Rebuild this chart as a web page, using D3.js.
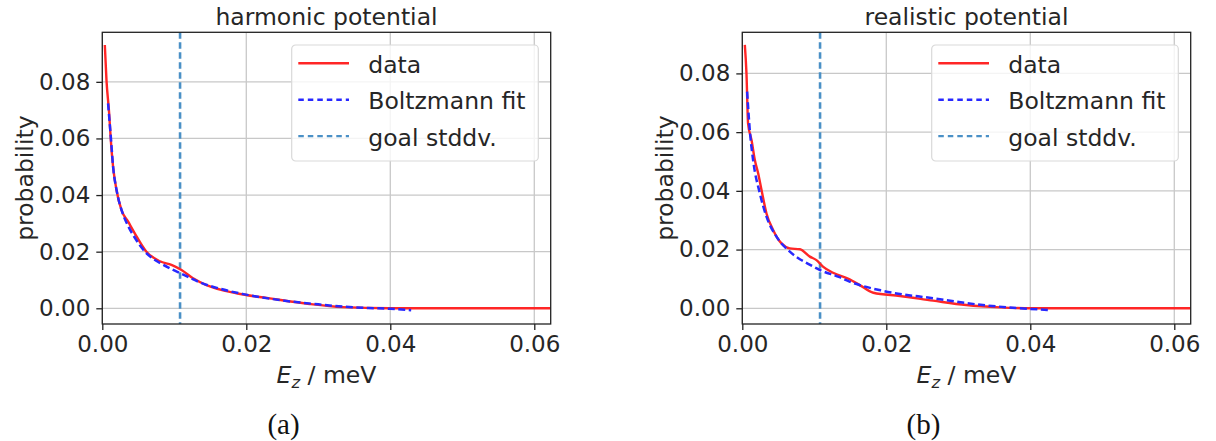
<!DOCTYPE html>
<html>
<head>
<meta charset="utf-8">
<script src="https://cdn.jsdelivr.net/npm/d3@7"></script>
<style>
  body { margin: 0; background: #fff; }
  text { font-family: "DejaVu Sans", sans-serif; fill: #262626; }
</style>
</head>
<body>
<svg id="chart" width="1216" height="441"></svg>
<script>
// tick values shared by both panels
const xTicks = [0, 0.02, 0.04, 0.06];
const yTicks = [0, 0.02, 0.04, 0.06, 0.08];
const goalStddev = 0.0108;

// (a) harmonic potential
const harmonicDataE = [0.00035, 0.00058, 0.00095, 0.00118, 0.0015, 0.00197, 0.00267, 0.00359, 0.00451, 0.00613, 0.008, 0.0096, 0.011, 0.0126, 0.01447, 0.01864, 0.02326, 0.0288, 0.0334, 0.0399, 0.0623];
const harmonicDataP = [0.093, 0.0806, 0.0689, 0.0595, 0.05, 0.0418, 0.0347, 0.0306, 0.0265, 0.02, 0.0166, 0.0153, 0.0135, 0.0106, 0.0082, 0.0053, 0.0035, 0.0015, 0.0004, 0, 0];
const harmonicFitE = [0.0008, 0.0012, 0.0015, 0.002, 0.0027, 0.0036, 0.0045, 0.006, 0.008, 0.0095, 0.011, 0.0135, 0.0165, 0.0196, 0.023, 0.0265, 0.03, 0.0334, 0.037, 0.04, 0.0429];
const harmonicFitP = [0.0724, 0.06, 0.05, 0.0415, 0.0345, 0.029, 0.025, 0.0198, 0.016, 0.014, 0.0122, 0.0092, 0.0068, 0.005, 0.0035, 0.0023, 0.0014, 0.0006, 0.0001, -0.0002, -0.0007];

// (b) realistic potential
const realisticDataE = [0.00035, 0.00058, 0.0008, 0.00128, 0.00174, 0.0022, 0.00267, 0.00336, 0.00428, 0.00544, 0.0066, 0.008, 0.00938, 0.0103, 0.0112, 0.0126, 0.0149, 0.0163, 0.0182, 0.0219, 0.0265, 0.0311, 0.0358, 0.0403, 0.0623];
const realisticDataP = [0.0897, 0.08, 0.063, 0.0573, 0.0505, 0.046, 0.0403, 0.0323, 0.0267, 0.0221, 0.0204, 0.0201, 0.0176, 0.0164, 0.0142, 0.0121, 0.0099, 0.0079, 0.0053, 0.0042, 0.0026, 0.0011, 0.0003, 0, 0];
const realisticFitE = [0.00067, 0.00104, 0.0015, 0.00243, 0.00336, 0.00475, 0.0066, 0.008, 0.0089, 0.0108, 0.0135, 0.0149, 0.0196, 0.0265, 0.0334, 0.0399, 0.0427];
const realisticFitP = [0.0738, 0.0607, 0.0505, 0.0392, 0.0312, 0.0244, 0.0193, 0.0167, 0.0155, 0.013, 0.0106, 0.0091, 0.0059, 0.0034, 0.0011, -0.0002, -0.0006];

const legendLabels = ["data", "Boltzmann fit", "goal stddv."];

const svg = d3.select("#chart");
svg.append("rect").attr("width", 1216).attr("height", 441).attr("fill", "#fff");

const panels = [
  { left: 102.3, title: "harmonic potential", caption: "(a)", yDomain: [-0.00555, 0.0975],
    dataE: harmonicDataE, dataP: harmonicDataP, fitE: harmonicFitE, fitP: harmonicFitP },
  { left: 742.3, title: "realistic potential", caption: "(b)", yDomain: [-0.00535, 0.094],
    dataE: realisticDataE, dataP: realisticDataP, fitE: realisticFitE, fitP: realisticFitP }
];

const plotTop = 32.3, plotW = 448.4, plotH = 291.7;

panels.forEach((p, i) => drawPanel(p, i));

function drawPanel(p, i) {
  const g = svg.append("g").attr("transform", `translate(${p.left},${plotTop})`);
  const x = d3.scaleLinear().domain([0, 0.06228]).range([0, plotW]);
  const y = d3.scaleLinear().domain(p.yDomain).range([plotH, 0]);

  const clipId = "clip" + i;
  g.append("clipPath").attr("id", clipId)
    .append("rect").attr("width", plotW).attr("height", plotH);

  // grid
  g.append("g").selectAll("line").data(xTicks).join("line")
    .attr("x1", d => x(d)).attr("x2", d => x(d))
    .attr("y1", 0).attr("y2", plotH)
    .attr("stroke", "#c8c8c8").attr("stroke-width", 1.3);
  g.append("g").selectAll("line").data(yTicks).join("line")
    .attr("x1", 0).attr("x2", plotW)
    .attr("y1", d => y(d)).attr("y2", d => y(d))
    .attr("stroke", "#c8c8c8").attr("stroke-width", 1.3);

  const line = d3.line().x(d => x(d[0])).y(d => y(d[1])).curve(d3.curveMonotoneX);
  const curves = g.append("g").attr("clip-path", `url(#${clipId})`);

  // goal stddev vertical
  curves.append("line")
    .attr("x1", x(goalStddev)).attr("x2", x(goalStddev))
    .attr("y1", 0).attr("y2", plotH)
    .attr("stroke", "#4a90c6").attr("stroke-width", 2.6)
    .attr("stroke-dasharray", "6.5,3.5");

  curves.append("path")
    .datum(d3.zip(p.dataE, p.dataP))
    .attr("d", line)
    .attr("fill", "none").attr("stroke", "#ff2626").attr("stroke-width", 2.4);

  curves.append("path")
    .datum(d3.zip(p.fitE, p.fitP))
    .attr("d", line)
    .attr("fill", "none").attr("stroke", "#2828ff").attr("stroke-width", 2.5)
    .attr("stroke-dasharray", "7,3.5");

  // axes
  const xAxis = g.append("g").attr("transform", `translate(0,${plotH})`)
    .call(d3.axisBottom(x).tickValues(xTicks).tickFormat(d3.format(".2f")).tickSize(6).tickPadding(6));
  const yAxis = g.append("g")
    .call(d3.axisLeft(y).tickValues(yTicks).tickFormat(d3.format(".2f")).tickSize(6).tickPadding(6));
  [xAxis, yAxis].forEach(a => {
    a.select(".domain").remove();
    a.selectAll(".tick line").attr("stroke", "#222").attr("stroke-width", 1.3);
    a.selectAll(".tick text").attr("font-size", 23).attr("font-family", "DejaVu Sans").attr("fill", "#262626");
  });

  // frame
  g.append("rect").attr("width", plotW).attr("height", plotH)
    .attr("fill", "none").attr("stroke", "#222").attr("stroke-width", 1.3);

  // title
  g.append("text").attr("x", plotW / 2).attr("y", 25 - plotTop)
    .attr("text-anchor", "middle").attr("font-size", 23.5).text(p.title);

  // axis labels
  g.append("text")
    .attr("transform", `translate(${33 - 102.3},${plotH / 2}) rotate(-90)`)
    .attr("text-anchor", "middle").attr("font-size", 23.5).text("probability");
  const xl = g.append("text").attr("x", plotW / 2).attr("y", 383 - plotTop)
    .attr("text-anchor", "middle").attr("font-size", 23.5);
  xl.append("tspan").attr("font-style", "italic").attr("font-family", "DejaVu Sans").text("E");
  xl.append("tspan").attr("font-style", "italic").attr("font-size", 16.5).attr("dy", 5).text("z");
  xl.append("tspan").attr("dy", -5).text(" / meV");

  // caption
  g.append("text").attr("x", plotW / 2 - 43).attr("y", 434 - plotTop)
    .attr("text-anchor", "middle").attr("font-size", 29)
    .style("font-family", "'Liberation Serif', 'DejaVu Serif', serif").style("fill", "#111")
    .text(p.caption);

  // legend
  const lg = g.append("g").attr("transform", `translate(${291.7 - 102.3},${45 - plotTop})`);
  lg.append("rect").attr("width", 246.6).attr("height", 116).attr("rx", 4)
    .attr("fill", "#fff").attr("fill-opacity", 0.8)
    .attr("stroke", "#d9d9d9").attr("stroke-width", 1.2);
  const styles = [
    { color: "#ff2626", dash: null },
    { color: "#2828ff", dash: "5.5,4" },
    { color: "#4a90c6", dash: "5.5,4" }
  ];
  legendLabels.forEach((lab, k) => {
    const cy = 18.3 + k * 36.4;
    lg.append("line").attr("x1", 6.6).attr("x2", 57.3).attr("y1", cy).attr("y2", cy)
      .attr("stroke", styles[k].color).attr("stroke-width", 2.4)
      .attr("stroke-dasharray", styles[k].dash);
    lg.append("text").attr("x", 76.6).attr("y", cy + 9.5).attr("font-size", 23.5).text(lab);
  });
}
</script>
</body>
</html>
